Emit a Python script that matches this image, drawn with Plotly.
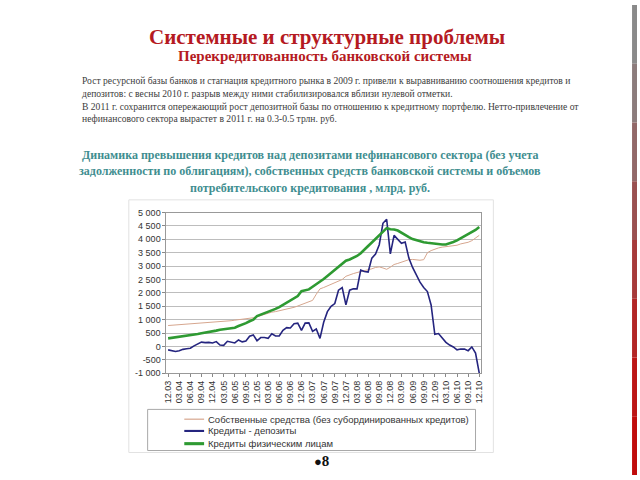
import plotly.graph_objects as go

# ---------------- data (monthly, 12.03 .. 12.10) ----------------
months = list(range(85))
tick_idx = list(range(0, 85, 3))
tick_labels = ["12.03",
               "03.04", "06.04", "09.04", "12.04",
               "03.05", "06.05", "09.05", "12.05",
               "03.06", "06.06", "09.06", "12.06",
               "03.07", "06.07", "09.07", "12.07",
               "03.08", "06.08", "09.08", "12.08",
               "03.09", "06.09", "09.09", "12.09",
               "03.10", "06.10", "09.10", "12.10"]

own_funds = [780,
             790, 800, 810, 815, 820, 830, 840, 850, 860, 870, 880, 900,
             910, 920, 930, 945, 960, 980, 995, 1010, 1030, 1050, 1070, 1110,
             1150, 1200, 1250, 1280, 1300, 1330, 1360, 1390, 1420, 1460, 1510, 1570,
             1620, 1660, 1720, 1950, 2150, 2200, 2260, 2310, 2360, 2420, 2500, 2620,
             2680, 2720, 2760, 2790, 2820, 2850, 2900, 2950, 2970, 2930, 2880, 2960,
             3060, 3100, 3150, 3200, 3240, 3250, 3230, 3220, 3240, 3500, 3580, 3640,
             3680, 3710, 3730, 3760, 3760, 3780, 3830, 3860, 3890, 3950, 4050, 4150]

loans_minus_deposits = [-130,
             -160, -190, -160, -110, -90, -70, 20, 90, 160, 140, 150, 130,
             180, 50, 40, 190, 150, 130, 240, 170, 200, 380, 430, 210,
             330, 330, 300, 470, 390, 390, 600, 700, 690, 850, 870, 600,
             870, 880, 560, 650, 300, 900, 1300, 1500, 1600, 2100, 2200, 1550,
             2100, 2150, 2150, 2850, 2800, 2780, 3300, 3450, 3800, 4600, 4750, 3460,
             4150, 4000, 3850, 3900, 3300, 2950, 2650, 2400, 2200, 2050, 1550, 450,
             480, 300, 150, 50, -20, -130, -100, -100, -160, -20, -250, -1000]

retail_loans = [300,
             320, 330, 340, 370, 400, 420, 440, 460, 490, 510, 530, 560,
             590, 620, 640, 650, 660, 700, 760, 810, 870, 940, 1000, 1130,
             1180, 1230, 1280, 1330, 1400, 1470, 1550, 1630, 1720, 1800, 1880, 2060,
             2100, 2130, 2230, 2320, 2420, 2520, 2630, 2740, 2850, 2950, 3060, 3200,
             3250, 3300, 3380, 3480, 3600, 3750, 3880, 4020, 4150, 4300, 4420, 4380,
             4370, 4330, 4240, 4150, 4080, 4010, 3960, 3920, 3890, 3870, 3850, 3840,
             3820, 3810, 3810, 3850, 3900, 3960, 4040, 4110, 4180, 4260, 4350, 4460]

y_ticks = [-1000, -500, 0, 500, 1000, 1500, 2000, 2500, 3000, 3500, 4000, 4500, 5000]
y_tick_labels = ["-1 000", "-500", "0", "500", "1 000", "1 500", "2 000",
                 "2 500", "3 000", "3 500", "4 000", "4 500", "5 000"]

series_names = ["Собственные средства (без субординированных кредитов)",
                "Кредиты - депозиты",
                "Кредиты физическим лицам"]
series_colors = ["#D6A68E", "#25257F", "#2E9A32"]
series_widths = [1, 1.6, 2.6]

W, H = 640, 480
def px(x):
    return x / W
def py(y):
    return 1 - y / H

fig = go.Figure()
for name, vals, col, w in zip(series_names,
                              [own_funds, loans_minus_deposits, retail_loans],
                              series_colors, series_widths):
    fig.add_trace(go.Scatter(x=months, y=vals, mode="lines", name=name,
                             line=dict(color=col, width=w), showlegend=False))

axis_font = dict(family="Liberation Sans, Arial, sans-serif", size=9, color="#333333")

fig.update_layout(
    width=W, height=H,
    margin=dict(l=0, r=0, t=0, b=0, pad=0),
    paper_bgcolor="white", plot_bgcolor="white",
    xaxis=dict(domain=[px(165), px(483)], range=[-0.45, 84.6],
               tickmode="array", tickvals=tick_idx, ticktext=tick_labels,
               tickangle=-90, tickfont=axis_font, ticks="outside", ticklen=3,
               tickcolor="#888888", showgrid=False, zeroline=False,
               showline=True, linecolor="#999999", linewidth=1, mirror=True),
    yaxis=dict(domain=[py(376), py(212)], range=[-1000, 5000],
               tickmode="array", tickvals=y_ticks, ticktext=y_tick_labels,
               tickfont=axis_font, ticks="outside", ticklen=3, tickcolor="#888888",
               showgrid=True, gridcolor="#BDBDBD", gridwidth=1, zeroline=False,
               showline=True, linecolor="#999999", linewidth=1, mirror=True),
    font=dict(family="Liberation Serif, serif"),
)

shapes = []
# chart frame
shapes.append(dict(type="rect", xref="paper", yref="paper",
                   x0=px(127), x1=px(495), y0=py(457), y1=py(199),
                   line=dict(color="#E2E2E2", width=1), layer="below"))
# legend frame
shapes.append(dict(type="rect", xref="paper", yref="paper",
                   x0=px(146), x1=px(477), y0=py(455), y1=py(413),
                   line=dict(color="#A8A8A8", width=1), fillcolor="white"))
ann = []
leg_rows = [423, 435, 448]
for name, col, w, yy in zip(series_names, series_colors, series_widths, leg_rows):
    shapes.append(dict(type="line", xref="paper", yref="paper",
                       x0=px(183), x1=px(203), y0=py(yy), y1=py(yy),
                       line=dict(color=col, width=w + 0.5 if w > 1 else 1.2)))
    ann.append(dict(x=px(205), y=py(yy), xref="paper", yref="paper",
                    text=name, showarrow=False, xanchor="left", yanchor="middle",
                    font=dict(family="Liberation Sans, Arial, sans-serif", size=9.5,
                              color="#333333")))

# right edge gradient bar
bar_cols = ["#8A8A8A", "#8C7C7C", "#926868", "#9A5050", "#A63A3A", "#B22626", "#BC1616", "#C00C0C"]
nseg = len(bar_cols)
for i, c in enumerate(bar_cols):
    shapes.append(dict(type="rect", xref="paper", yref="paper",
                       x0=px(635), x1=px(640),
                       y0=py(H * (i + 1) / nseg), y1=py(H * i / nseg),
                       line=dict(width=0), fillcolor=c))

red = "#B51A22"
teal = "#3F8E90"
ann.append(dict(x=px(327), y=py(33), xref="paper", yref="paper",
                text="<b>Системные и структурные проблемы</b>", showarrow=False,
                xanchor="center", yanchor="middle",
                font=dict(family="Liberation Serif, serif", size=21, color=red)))
ann.append(dict(x=px(325), y=py(52), xref="paper", yref="paper",
                text="<b>Перекредитованность банковской системы</b>", showarrow=False,
                xanchor="center", yanchor="middle",
                font=dict(family="Liberation Serif, serif", size=15, color=red)))

para = [
    (77, "Рост ресурсной базы банков и стагнация кредитного рынка в 2009 г. привели к выравниванию соотношения кредитов и"),
    (90, "депозитов: с весны 2010 г. разрыв между ними стабилизировался вблизи нулевой отметки."),
    (104, "В 2011 г. сохранится опережающий рост депозитной базы по отношению к кредитному портфелю. Нетто-привлечение от"),
    (116, "нефинансового сектора вырастет в 2011 г. на 0.3-0.5 трлн. руб."),
]
for yy, t in para:
    ann.append(dict(x=px(78), y=py(yy), xref="paper", yref="paper", text=t,
                    showarrow=False, xanchor="left", yanchor="middle",
                    font=dict(family="Liberation Serif, serif", size=9.6, color="#3C3C3C")))

heading = [
    (153, "Динамика превышения кредитов над депозитами нефинансового сектора (без учета"),
    (170, "задолженности по облигациям), собственных средств банковской системы и объемов"),
    (187, "потребительского кредитования , млрд. руб."),
]
for yy, t in heading:
    ann.append(dict(x=px(310), y=py(yy), xref="paper", yref="paper", text="<b>" + t + "</b>",
                    showarrow=False, xanchor="center", yanchor="middle",
                    font=dict(family="Liberation Serif, serif", size=12, color=teal)))

ann.append(dict(x=px(322), y=py(466), xref="paper", yref="paper",
                text="<span style='font-size:13px'>●</span><b>8</b>",
                showarrow=False, xanchor="center", yanchor="middle",
                font=dict(family="Liberation Serif, serif", size=15, color="#111111")))

fig.update_layout(shapes=shapes, annotations=ann)
fig.write_html("out.html")
